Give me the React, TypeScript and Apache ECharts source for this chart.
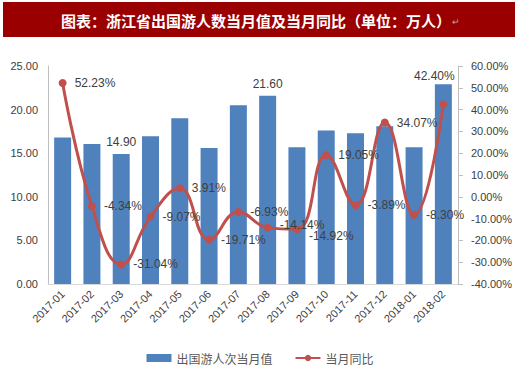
import React, { useEffect, useRef } from "react";
import * as echarts from "echarts";

const categories = ["2017-01", "2017-02", "2017-03", "2017-04", "2017-05", "2017-06", "2017-07", "2017-08", "2017-09", "2017-10", "2017-11", "2017-12", "2018-01", "2018-02"];
const visitors = [16.8, 16.06, 14.9, 16.93, 19.0, 15.6, 20.5, 21.6, 15.67, 17.6, 17.3, 18.1, 15.67, 22.9];
const yoy = [52.23, -4.34, -31.04, -9.07, 3.91, -19.71, -6.93, -14.14, -14.92, 19.05, -3.89, 34.07, -8.3, 42.4];
const labeledBars = ["2017-03", "2017-08"];
const leftTicks = { min: 0, max: 25, interval: 5 };
const rightTicks = { min: -40, max: 60, interval: 10 };
const titleText = "图表：浙江省出国游人数当月值及当月同比（单位：万人）";
const barName = "出国游人次当月值";
const lineName = "当月同比";

const FONT = "'Liberation Sans', Arial, sans-serif";
const CJK = "'Noto Sans CJK SC', sans-serif";

export default function App() {
  const ref = useRef<HTMLDivElement>(null);
  useEffect(() => {
    if (!ref.current) return;
    const chart = echarts.init(ref.current, undefined, { renderer: "svg" });
    const barData = visitors.map((v, i) => ({
      value: v,
      label: { show: labeledBars.includes(categories[i]) },
    }));
    const lineLabelOverrides: Record<number, any> = {
      7: { offset: [0, -3] },
      8: { offset: [0, 7] },
      13: { position: "top", offset: [-9, -10] },
    };
    const lineData = yoy.map((v, i) =>
      lineLabelOverrides[i] ? { value: v, label: lineLabelOverrides[i] } : { value: v }
    );
    chart.setOption({
      animation: false,
      backgroundColor: "#ffffff",
      graphic: [
        { type: "rect", left: 3, top: 2, shape: { width: 512, height: 35 }, style: { fill: "#9b0000" } },
        {
          type: "text",
          x: 256,
          y: 20,
          style: {
            text: titleText,
            fill: "#ffffff",
            font: `bold 15px ${CJK}`,
            align: "center",
            verticalAlign: "middle",
          },
        },
        { type: "text", x: 452, y: 22, style: { text: "↵", fill: "#c8a0a0", font: `9px ${FONT}`, verticalAlign: "middle" } },
      ],
      grid: { left: 48, right: 62, top: 66, bottom: 87, containLabel: false },
      legend: {
        left: "center",
        top: 347,
        itemWidth: 25,
        itemHeight: 8,
        itemGap: 22,
        textStyle: { color: "#595959", fontSize: 12, fontFamily: CJK },
        data: [
          { name: barName, icon: "rect" },
          { name: lineName },
        ],
      },
      xAxis: {
        type: "category",
        data: categories,
        axisLine: { show: true, lineStyle: { color: "#d9d9d9" } },
        axisTick: { show: false },
        axisLabel: { rotate: 45, color: "#404040", fontSize: 11, fontFamily: FONT, margin: 8, interval: 0 },
      },
      yAxis: [
        {
          type: "value",
          min: leftTicks.min,
          max: leftTicks.max,
          interval: leftTicks.interval,
          splitLine: { show: false },
          axisLine: { show: true, lineStyle: { color: "#bfbfbf" } },
          axisTick: { show: false },
          axisLabel: { color: "#404040", fontSize: 11, fontFamily: FONT, margin: 10, formatter: (v: number) => v.toFixed(2) },
        },
        {
          type: "value",
          position: "right",
          min: rightTicks.min,
          max: rightTicks.max,
          interval: rightTicks.interval,
          splitLine: { show: false },
          axisLine: { show: true, lineStyle: { color: "#bfbfbf" } },
          axisTick: { show: true, inside: false, length: 5, lineStyle: { color: "#bfbfbf" } },
          axisLabel: { color: "#404040", fontSize: 11, fontFamily: FONT, margin: 13, formatter: (v: number) => v.toFixed(2) + "%" },
        },
      ],
      series: [
        {
          name: barName,
          type: "bar",
          yAxisIndex: 0,
          data: barData,
          barCategoryGap: "42%",
          itemStyle: { color: "#4f81bd" },
          label: {
            show: false,
            position: "top",
            distance: 6,
            color: "#404040",
            fontSize: 12,
            fontFamily: FONT,
            formatter: (p: any) => Number(p.value).toFixed(2),
          },
          z: 2,
        },
        {
          name: lineName,
          type: "line",
          yAxisIndex: 1,
          data: lineData,
          smooth: 0.45,
          symbol: "circle",
          symbolSize: 8,
          itemStyle: { color: "#c0504d" },
          lineStyle: { color: "#c0504d", width: 3 },
          label: {
            show: true,
            position: "right",
            distance: 8,
            color: "#404040",
            fontSize: 12,
            fontFamily: FONT,
            formatter: (p: any) => Number(p.value).toFixed(2) + "%",
          },
          z: 3,
        },
      ],
    });
    return () => chart.dispose();
  }, []);
  return <div ref={ref} style={{ position: "fixed", left: 0, top: 0, width: 520, height: 371 }} />;
}
